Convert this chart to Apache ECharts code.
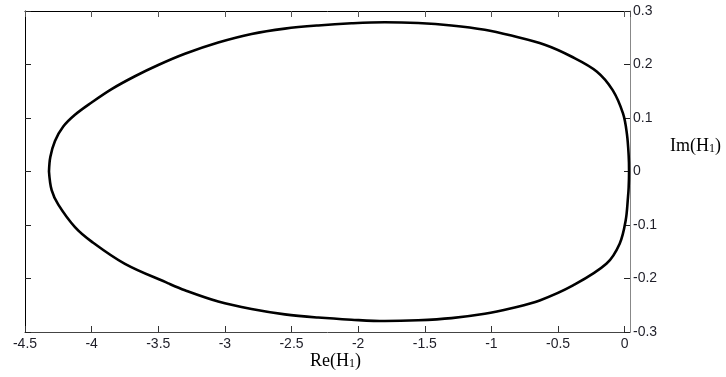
<!DOCTYPE html>
<html>
<head>
<meta charset="utf-8">
<script src="https://cdn.jsdelivr.net/npm/echarts@6/dist/echarts.min.js"></script>
<style>html,body{margin:0;padding:0;background:#fff}#c{width:726px;height:377px}</style>
</head>
<body>
<div id="c"></div>
<script>
// Nyquist curve: real part (x) and imaginary part (y), traced as one closed loop
var reValues = [-4.32, -4.31, -4.275, -4.213, -4.125, -4.0, -3.85, -3.675, -3.5, -3.3, -3.05, -2.8, -2.55, -2.3, -2.05, -1.8, -1.55, -1.3, -1.05, -0.85, -0.6, -0.4, -0.21, -0.09, -0.012, 0.017, 0.03, 0.033,
                0.03, 0.025, 0.0075, -0.0375, -0.1375, -0.3875, -0.6375, -0.85, -1.05, -1.3, -1.55, -1.8, -2.05, -2.3, -2.55, -2.8, -3.05, -3.3, -3.425, -3.75, -4.0, -4.125, -4.25, -4.3, -4.32];
var imValues = [0, 0.027, 0.057, 0.084, 0.106, 0.129, 0.154, 0.178, 0.199, 0.22, 0.241, 0.257, 0.267, 0.273, 0.277, 0.279, 0.2775, 0.273, 0.265, 0.254, 0.237, 0.215, 0.187, 0.152, 0.108, 0.07, 0.03, 0,
                -0.03, -0.048, -0.0916, -0.135, -0.1726, -0.213, -0.241, -0.2555, -0.266, -0.274, -0.278, -0.2795, -0.277, -0.273, -0.267, -0.257, -0.243, -0.222, -0.209, -0.1726, -0.131, -0.104, -0.062, -0.035, 0];
var xTitle = ['Re(H', '1', ')'];
var yTitle = ['Im(H', '1', ')'];

var points = reValues.map(function (r, i) { return [r, imValues[i]]; });
var chart = echarts.init(document.getElementById('c'), null, {renderer: 'canvas'});
var labelStyle = {color: '#1e1e28', fontFamily: 'Liberation Sans, Arial, sans-serif', fontSize: 14};
var rich = {
  n: {fontFamily: 'Liberation Serif, Times New Roman, serif', fontSize: 18, color: '#111', verticalAlign: 'bottom', lineHeight: 22},
  s: {fontFamily: 'Liberation Serif, Times New Roman, serif', fontSize: 12, color: '#111', verticalAlign: 'bottom', lineHeight: 20}
};
function title(t) { return '{n|' + t[0] + '}{s|' + t[1] + '}{n|' + t[2] + '}'; }
chart.setOption({
  animation: false,
  backgroundColor: '#fff',
  grid: {left: 25, right: 96, top: 11, bottom: 45, containLabel: false},
  xAxis: [{
    type: 'value', position: 'bottom', min: -4.5, max: 0.04, interval: 0.5,
    axisLine: {onZero: false, lineStyle: {color: '#444', width: 1}},
    axisTick: {inside: true, length: 6, lineStyle: {color: '#333'}},
    axisLabel: Object.assign({margin: 5, showMaxLabel: false}, labelStyle),
    splitLine: {show: false}
  }, {
    type: 'value', position: 'top', min: -4.5, max: 0.04, interval: 0.5,
    axisLine: {onZero: false, lineStyle: {color: '#000', width: 1}},
    axisTick: {inside: true, length: 6, lineStyle: {color: '#555'}},
    axisLabel: {show: false},
    splitLine: {show: false}
  }],
  yAxis: [{
    type: 'value', position: 'right', min: -0.3, max: 0.3, interval: 0.1,
    axisLine: {show: true, onZero: false, lineStyle: {color: '#888', width: 1}},
    axisTick: {show: true, inside: true, length: 6, lineStyle: {color: '#222'}},
    axisLabel: Object.assign({margin: 3}, labelStyle),
    splitLine: {show: false}
  }, {
    type: 'value', position: 'left', min: -0.3, max: 0.3, interval: 0.1,
    axisLine: {show: true, onZero: false, lineStyle: {color: '#000', width: 1}},
    axisTick: {show: true, inside: true, length: 6, lineStyle: {color: '#222'}},
    axisLabel: {show: false},
    splitLine: {show: false}
  }],
  graphic: [{
    type: 'text', left: 310, top: 352,
    style: {text: title(xTitle), rich: rich}
  }, {
    type: 'text', left: 670, top: 137,
    style: {text: title(yTitle), rich: rich}
  }],
  series: [{
    type: 'line', xAxisIndex: 0, yAxisIndex: 0,
    data: points, smooth: 0.35, showSymbol: false, symbol: 'none',
    lineStyle: {color: '#000', width: 2.6, join: 'round'}
  }]
});
</script>
</body>
</html>
